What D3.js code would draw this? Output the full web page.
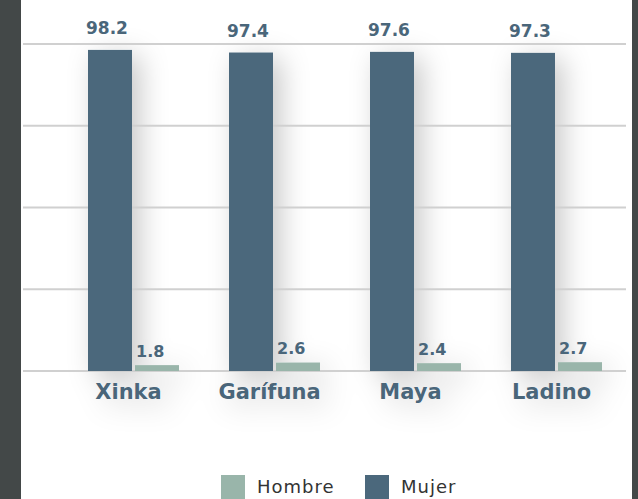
<!DOCTYPE html>
<html>
<head>
<meta charset="utf-8">
<script src="https://cdn.jsdelivr.net/npm/d3@7"></script>
<style>
  body { margin: 0; background: #434848; }
  svg { display: block; }
</style>
</head>
<body>
<div id="chart"></div>
<script>
const categories = ["Xinka", "Garífuna", "Maya", "Ladino"];
const mujer = [98.2, 97.4, 97.6, 97.3];
const hombre = [1.8, 2.6, 2.4, 2.7];
const series = ["Mujer", "Hombre"];
const legendOrder = ["Hombre", "Mujer"];
const yTicks = [0, 25, 50, 75, 100];

const W = 638, H = 499;
const colors = { Mujer: "#4b687c", Hombre: "#99b5aa" };
const labelColor = "#4a667a";
const boldFont = "'DejaVu Sans', sans-serif";

const svg = d3.select("#chart").append("svg")
  .attr("width", W)
  .attr("height", H);

// soft shadow behind bars and labels
const defs = svg.append("defs");
const f = defs.append("filter").attr("id", "shadow")
  .attr("x", "-100%").attr("y", "-20%").attr("width", "300%").attr("height", "160%");
f.append("feDropShadow")
  .attr("dx", 8).attr("dy", 6)
  .attr("stdDeviation", 14)
  .attr("flood-color", "#000")
  .attr("flood-opacity", 0.22);

svg.append("rect").attr("width", W).attr("height", H).attr("fill", "#434848");
svg.append("rect").attr("x", 21).attr("width", 611).attr("height", H).attr("fill", "#fff");

const table = categories.map((c, i) => ({ cat: c, Mujer: mujer[i], Hombre: hombre[i] }));

const x = d3.scaleBand().domain(categories).range([63, 627]).padding(0);
const groupW = 91;
const groupOff = (x.bandwidth() - groupW) / 2;
const xSub = d3.scaleBand().domain(series).range([0, groupW]).paddingInner(0.064);
const y = d3.scaleLinear().domain([0, 100]).range([371, 44]);

// shadows first, gridlines drawn over them
const shadowG = svg.append("g").attr("filter", "url(#shadow)");
shadowG.selectAll("rect")
  .data(table.flatMap(d => series.map(s => ({ cat: d.cat, s, v: d[s] }))))
  .enter().append("rect")
  .attr("x", d => x(d.cat) + groupOff + xSub(d.s))
  .attr("y", d => y(d.v))
  .attr("width", xSub.bandwidth())
  .attr("height", d => y(0) - y(d.v))
  .attr("fill", "#fff");
shadowG.selectAll("text")
  .data(categories)
  .enter().append("text")
  .attr("x", d => x(d) + groupOff + groupW / 2 - 5)
  .attr("y", 399)
  .attr("text-anchor", "middle")
  .style("font-family", boldFont)
  .style("font-weight", "bold")
  .style("font-size", "21px")
  .attr("fill", "#fff")
  .text(d => d);

svg.append("g")
  .selectAll("line")
  .data(yTicks)
  .enter().append("line")
  .attr("x1", 23).attr("x2", 626)
  .attr("y1", d => y(d)).attr("y2", d => y(d))
  .attr("stroke", "#d0d0d0")
  .attr("stroke-width", 2);

const groups = svg.append("g").selectAll("g")
  .data(table)
  .enter().append("g")
  .attr("transform", d => `translate(${x(d.cat) + groupOff},0)`);

groups.selectAll("rect")
  .data(d => series.map(s => ({ s, v: d[s] })))
  .enter().append("rect")
  .attr("x", d => xSub(d.s))
  .attr("y", d => y(d.v))
  .attr("width", xSub.bandwidth())
  .attr("height", d => y(0) - y(d.v))
  .attr("fill", d => colors[d.s]);

groups.selectAll("text.val")
  .data(d => series.map(s => ({ s, v: d[s] })))
  .enter().append("text")
  .attr("class", "val")
  .attr("x", d => xSub(d.s) + (d.s === "Mujer" ? -2 : 1))
  .attr("y", d => y(d.v) - (d.s === "Mujer" ? 16 : 8))
  .style("font-family", boldFont)
  .style("font-weight", "bold")
  .style("font-size", d => d.s === "Mujer" ? "17px" : "16px")
  .attr("fill", labelColor)
  .text(d => d.v.toFixed(1));

svg.append("g").selectAll("text")
  .data(categories)
  .enter().append("text")
  .attr("x", d => x(d) + groupOff + groupW / 2 - 5)
  .attr("y", 399)
  .attr("text-anchor", "middle")
  .style("font-family", boldFont)
  .style("font-weight", "bold")
  .style("font-size", "21px")
  .attr("fill", labelColor)
  .text(d => d);

// legend
const legend = svg.append("g").selectAll("g")
  .data(legendOrder)
  .enter().append("g")
  .attr("transform", (d, i) => `translate(${221 + i * 144},475)`);

legend.append("rect")
  .attr("width", 24).attr("height", 24)
  .attr("fill", d => colors[d]);

legend.append("text")
  .attr("x", 36).attr("y", 18)
  .style("font-family", "'DejaVu Sans', sans-serif")
  .style("font-size", "18px")
  .style("letter-spacing", "1px")
  .attr("fill", "#333")
  .text(d => d);
</script>
</body>
</html>
